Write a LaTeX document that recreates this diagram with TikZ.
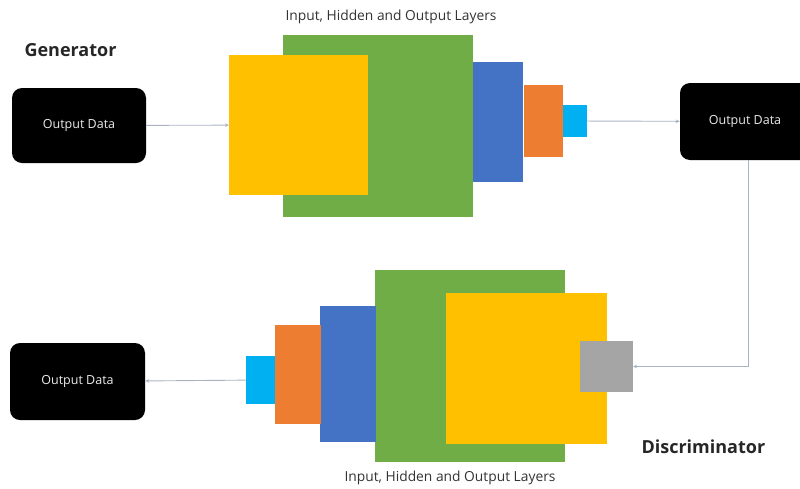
\documentclass[tikz,border=0pt]{standalone}
\usepackage{fontspec}
\setmainfont{Open Sans}
\usetikzlibrary{arrows.meta}

\definecolor{layeryellow}{HTML}{FFC000}
\definecolor{layergreen}{HTML}{70AD47}
\definecolor{layerblue}{HTML}{4472C4}
\definecolor{layerorange}{HTML}{ED7D31}
\definecolor{layercyan}{HTML}{00B0F0}
\definecolor{layergrey}{HTML}{A5A5A5}
\definecolor{linkgray}{HTML}{A9B3C2}

\tikzset{
  datanode/.style={fill=black, rounded corners=10pt, text=white!92!black, inner sep=0pt,
    font=\fontsize{12.5}{14}\selectfont},
  layer/.style={inner sep=0pt, outer sep=0pt},
  link/.style={draw=linkgray, line width=0.9pt, -{Stealth[length=4pt,width=3.5pt]}},
  caption/.style={font=\fontsize{13.8}{16}\selectfont, text=black!80},
  title/.style={font=\bfseries\fontsize{18}{20}\selectfont, text=black!85, anchor=west},
}

\begin{document}
\begin{tikzpicture}[x=1pt, y=-1pt]

\useasboundingbox (0,0) rectangle (800,488);

% Generator
\node[title] (gentitle) at (21,50) {Generator};
\node[caption] (gencap) at (391,17) {Input, Hidden and Output Layers};

\node[datanode, minimum width=134pt, minimum height=75pt] (gin) at (79,125.5) {Output Data};
\node[layer, fill=layergreen, minimum width=190pt, minimum height=182pt] (ggreen) at (378,126) {};
\node[layer, fill=layeryellow, minimum width=139pt, minimum height=140pt] (gyellow) at (298.5,125) {};
\node[layer, fill=layerblue, minimum width=50pt, minimum height=120pt] (gblue) at (498,122) {};
\node[layer, fill=layerorange, minimum width=39pt, minimum height=72pt] (gorange) at (543.5,121) {};
\node[layer, fill=layercyan, minimum width=24pt, minimum height=32pt] (gcyan) at (575,121) {};
\node[datanode, minimum width=130pt, minimum height=77pt] (gout) at (745,121.5) {Output Data};

\draw[link] (gin) -- (gyellow);
\draw[link] (gcyan) -- (gout);

% Discriminator
\node[layer, fill=layergreen, minimum width=190pt, minimum height=192pt] (dgreen) at (470,366) {};
\node[layer, fill=layeryellow, minimum width=161pt, minimum height=151pt] (dyellow) at (526.5,368.5) {};
\node[layer, fill=layergrey, minimum width=53pt, minimum height=51pt] (dgrey) at (606.5,366.5) {};
\node[layer, fill=layerblue, minimum width=56pt, minimum height=136pt] (dblue) at (348,374) {};
\node[layer, fill=layerorange, minimum width=46pt, minimum height=99pt] (dorange) at (298,374.5) {};
\node[layer, fill=layercyan, minimum width=29pt, minimum height=48pt] (dcyan) at (260.5,380) {};
\node[datanode, minimum width=135pt, minimum height=77pt] (dout) at (77.5,381.5) {Output Data};

\node[title] (distitle) at (638,447) {Discriminator};
\node[caption] (discap) at (450,478) {Input, Hidden and Output Layers};

\draw[link] ([xshift=3pt]gout.south) |- (dgrey.east);
\draw[link] (dcyan) -- (dout);

\end{tikzpicture}
\end{document}
